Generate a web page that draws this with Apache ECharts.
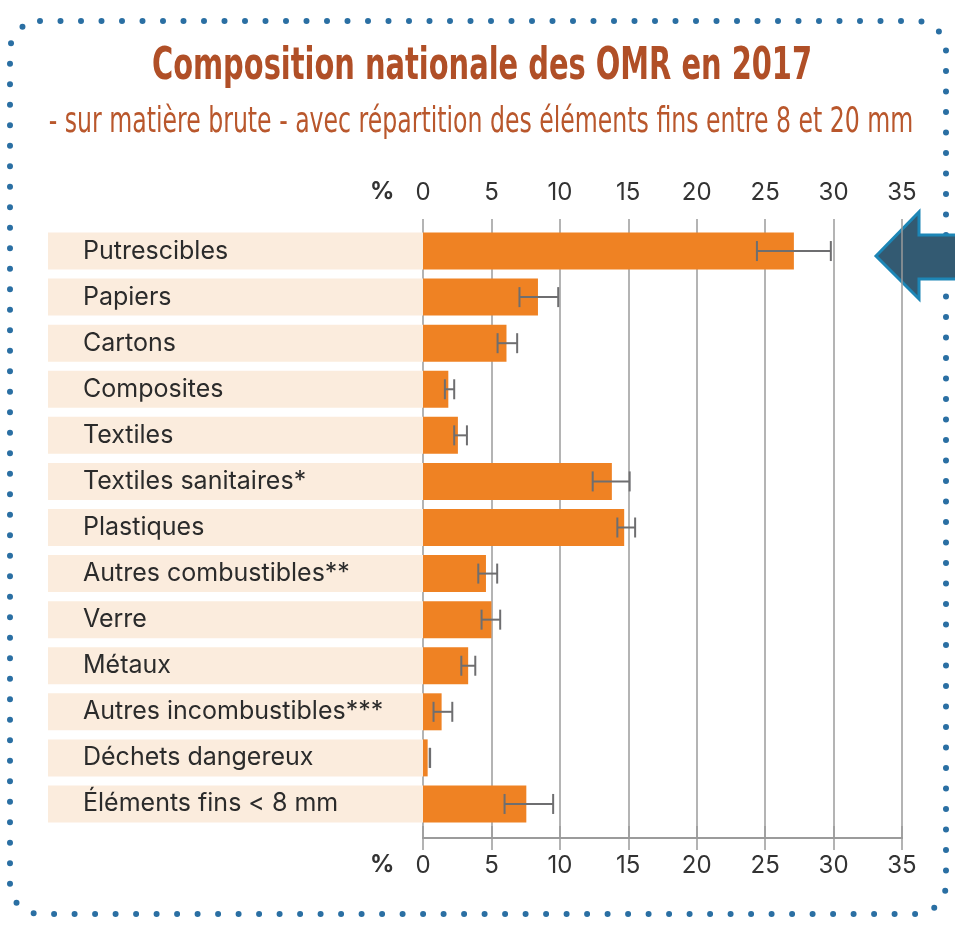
<!DOCTYPE html>
<html>
<head>
<meta charset="utf-8">
<script src="https://cdn.jsdelivr.net/npm/echarts@6/dist/echarts.min.js"></script>
<style>
html,body{margin:0;padding:0;background:#fff;}
#chart{width:955px;height:931px;}
</style>
</head>
<body>
<div id="chart"></div>
<script>
const categories = [
  'Putrescibles', 'Papiers', 'Cartons', 'Composites', 'Textiles',
  'Textiles sanitaires*', 'Plastiques', 'Autres combustibles**', 'Verre',
  'Métaux', 'Autres incombustibles***', 'Déchets dangereux', 'Éléments fins < 8 mm'
];
const values  = [27.1, 8.4, 6.1, 1.85, 2.55, 13.8, 14.7, 4.6, 5.0, 3.3, 1.36, 0.34, 7.55];
const errLow  = [24.4, 7.05, 5.45, 1.6, 2.28, 12.4, 14.2, 4.04, 4.28, 2.8, 0.77, 0.49, 5.96];
const errHigh = [29.8, 9.88, 6.88, 2.28, 3.21, 15.1, 15.5, 5.42, 5.64, 3.82, 2.14, 0.52, 9.51];
const axisMin = 0, axisMax = 35, axisInterval = 5;
const axisUnit = '%';
const titleText = 'Composition nationale des OMR en 2017';
const subtitleText = '- sur matière brute - avec répartition des éléments fins entre 8 et 20 mm';

const GRID_LEFT = 423, GRID_RIGHT = 53;
const FRAME_TOP = 219, FRAME_BOTTOM = 931 - 838;
const BAR_TOP = 228, BAR_BOTTOM = 931 - 827;
const BAR_W = 37;
const AX = '#9b9b9b';
const LABEL_FONT = "Inter, 'Noto Sans', sans-serif";
const TITLE_FONT = "'Liberation Sans Narrow', 'DejaVu Sans Condensed', sans-serif";

const tickLabel = {color:'#333', fontSize:24, fontFamily:LABEL_FONT};

const chart = echarts.init(document.getElementById('chart'), null, {renderer:'canvas'});
chart.setOption({
  backgroundColor:'#fff',
  animation:false,
  grid:[
    {left:GRID_LEFT, right:GRID_RIGHT, top:FRAME_TOP, bottom:FRAME_BOTTOM},
    {left:GRID_LEFT, right:GRID_RIGHT, top:BAR_TOP, bottom:BAR_BOTTOM},
    {left:48, width:GRID_LEFT-48, top:BAR_TOP, bottom:BAR_BOTTOM}
  ],
  xAxis:[
    {gridIndex:0, type:'value', position:'top', min:axisMin, max:axisMax, interval:axisInterval,
     axisLine:{show:true, lineStyle:{color:AX, width:2}},
     axisTick:{show:true, length:12, lineStyle:{color:AX, width:1.5}},
     splitLine:{show:true, lineStyle:{color:AX, width:1.5}},
     axisLabel:{...tickLabel, margin:14}},
    {gridIndex:0, type:'value', position:'bottom', min:axisMin, max:axisMax, interval:axisInterval,
     axisLine:{show:true, lineStyle:{color:AX, width:2}},
     axisTick:{show:true, length:12, lineStyle:{color:AX, width:1.5}},
     splitLine:{show:false},
     axisLabel:{...tickLabel, margin:16}},
    {gridIndex:1, type:'value', min:axisMin, max:axisMax, show:false},
    {gridIndex:2, type:'value', min:0, max:1, show:false}
  ],
  yAxis:[
    {gridIndex:0, type:'value', show:false},
    {gridIndex:1, type:'category', data:categories, inverse:true, show:false},
    {gridIndex:2, type:'category', data:categories, inverse:true, z:5,
     axisLine:{show:false}, axisTick:{show:false},
     axisLabel:{inside:true, margin:35, color:'#2b2b2b', fontSize:25, fontFamily:LABEL_FONT}}
  ],
  graphic:[
    {type:'text', x:482, y:68, scaleX:0.73, z:10,
     style:{text:titleText, fill:'#b04f27', font:"bold 44px "+TITLE_FONT,
            align:'center', verticalAlign:'middle', textAlign:'center', textVerticalAlign:'middle'}},
    {type:'text', x:481, y:123, scaleX:0.82, scaleY:1.12, z:10,
     style:{text:subtitleText, fill:'#b9572c', font:"32px "+TITLE_FONT,
            align:'center', verticalAlign:'middle', textAlign:'center', textVerticalAlign:'middle'}},
    {type:'text', left:370, top:180, style:{text:axisUnit, fill:'#333', font:"bold 24px "+LABEL_FONT}},
    {type:'text', left:370, top:853, style:{text:axisUnit, fill:'#333', font:"bold 24px "+LABEL_FONT}},
    {type:'rect', shape:{x:10, y:21, width:936, height:893, r:30}, silent:true,
     style:{fill:'none', stroke:'#2a6fa3', lineWidth:6, lineDash:[0,20.5], lineCap:'round'}},
    {type:'polygon', shape:{points:[[876,256],[919,212],[919,235],[960,235],[960,279],[919,279],[919,299]]},
     style:{fill:'#335a72', stroke:'#1d86b6', lineWidth:3}}
  ],
  series:[
    {type:'bar', xAxisIndex:3, yAxisIndex:2, data:categories.map(()=>1), barWidth:BAR_W,
     itemStyle:{color:'#fbecdd'}, silent:true},
    {type:'bar', xAxisIndex:2, yAxisIndex:1, data:values, barWidth:BAR_W,
     itemStyle:{color:'#ef8223'}},
    {type:'custom', xAxisIndex:2, yAxisIndex:1, z:5,
     data:categories.map((c,i)=>[i, errLow[i], errHigh[i]]),
     renderItem:function(params, api){
       const i = api.value(0);
       const p1 = api.coord([api.value(1), i]);
       const p2 = api.coord([api.value(2), i]);
       const h = 10;
       const st = {stroke:'#6e6e70', lineWidth:2};
       return {type:'group', children:[
         {type:'line', shape:{x1:p1[0], y1:p1[1], x2:p2[0], y2:p2[1]}, style:st},
         {type:'line', shape:{x1:p1[0], y1:p1[1]-h, x2:p1[0], y2:p1[1]+h}, style:st},
         {type:'line', shape:{x1:p2[0], y1:p2[1]-h, x2:p2[0], y2:p2[1]+h}, style:st}
       ]};
     }}
  ]
});
</script>
</body>
</html>
